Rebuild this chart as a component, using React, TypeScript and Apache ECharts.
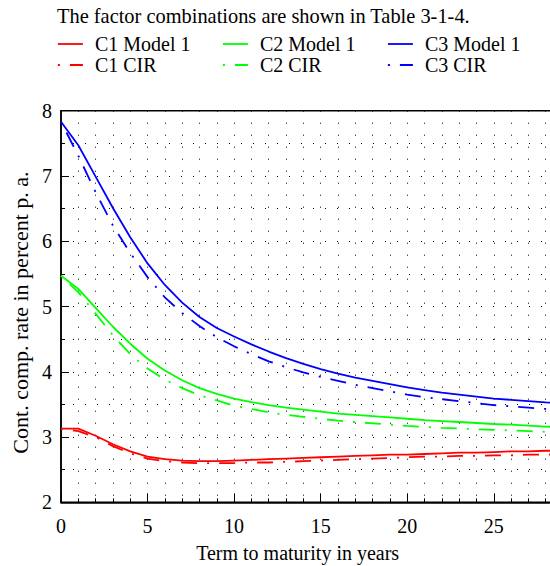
import React, { useEffect, useRef } from "react";
import * as echarts from "echarts";

const years = [0, 1, 2, 3, 4, 5, 6, 7, 8, 9, 10, 11, 12, 13, 14, 15, 16, 17, 18, 19, 20, 21, 22, 23, 24, 25, 26, 27, 28, 29];

const c1Model1 = [3.13, 3.13, 3.02, 2.89, 2.78, 2.7, 2.66, 2.64, 2.63, 2.63, 2.64, 2.65, 2.66, 2.67, 2.68, 2.69, 2.7, 2.71, 2.72, 2.73, 2.73, 2.74, 2.75, 2.76, 2.76, 2.77, 2.78, 2.78, 2.79, 2.79];
const c1Cir = [3.13, 3.09, 3.0, 2.86, 2.75, 2.67, 2.63, 2.61, 2.6, 2.6, 2.6, 2.61, 2.61, 2.62, 2.63, 2.64, 2.65, 2.66, 2.67, 2.68, 2.69, 2.7, 2.7, 2.71, 2.71, 2.72, 2.72, 2.73, 2.73, 2.74];
const c2Model1 = [5.47, 5.27, 4.98, 4.69, 4.43, 4.2, 4.02, 3.87, 3.75, 3.66, 3.59, 3.535, 3.49, 3.45, 3.42, 3.39, 3.36, 3.34, 3.32, 3.3, 3.28, 3.26, 3.245, 3.23, 3.215, 3.2, 3.19, 3.175, 3.16, 3.15];
const c2Cir = [5.47, 5.22, 4.89, 4.56, 4.27, 4.05, 3.88, 3.75, 3.64, 3.56, 3.48, 3.43, 3.38, 3.34, 3.31, 3.28, 3.25, 3.23, 3.21, 3.19, 3.17, 3.155, 3.14, 3.13, 3.12, 3.11, 3.1, 3.09, 3.08, 3.07];
const c3Model1 = [7.83, 7.47, 6.99, 6.51, 6.06, 5.66, 5.33, 5.06, 4.84, 4.67, 4.54, 4.42, 4.31, 4.21, 4.12, 4.04, 3.97, 3.91, 3.86, 3.81, 3.76, 3.72, 3.68, 3.65, 3.62, 3.59, 3.57, 3.55, 3.53, 3.52];
const c3Cir = [7.83, 7.31, 6.75, 6.24, 5.82, 5.45, 5.14, 4.9, 4.7, 4.53, 4.39, 4.27, 4.16, 4.07, 3.99, 3.92, 3.86, 3.8, 3.75, 3.7, 3.65, 3.61, 3.58, 3.55, 3.52, 3.49, 3.47, 3.45, 3.43, 3.42];

const seriesNames = ["C1 Model 1", "C2 Model 1", "C3 Model 1", "C1 CIR", "C2 CIR", "C3 CIR"];
const seriesValues = [c1Model1, c2Model1, c3Model1, c1Cir, c2Cir, c3Cir];
const seriesColors = ["#ff0000", "#00ff00", "#0000ff", "#ff0000", "#00ff00", "#0000ff"];
const seriesDashed = [false, false, false, true, true, true];

const titleText = "The factor combinations are shown in Table 3-1-4.";
const xName = "Term to maturity in years";
const yName = "Cont. comp. rate in percent p. a.";

const FONT = "Liberation Serif";
const DASH = [16, 10, 2, 10];

export default function App() {
  const ref = useRef<HTMLDivElement>(null);

  useEffect(() => {
    if (!ref.current) return;
    const chart = echarts.init(ref.current, undefined, { renderer: "svg" });

    const legendLefts = [57, 222, 387];
    const legendTops = [34, 55];

    const dotLine = { color: "#000", width: 1, type: [1, 11] as number[] };

    const option: any = {
      animation: false,
      backgroundColor: "#fff",
      textStyle: { fontFamily: FONT },
      title: {
        text: titleText,
        left: 57,
        top: 6,
        padding: 0,
        textStyle: { fontFamily: FONT, fontSize: 20.4, fontWeight: "normal", color: "#000" },
      },
      legend: seriesNames.map((name, i) => ({
        data: [name],
        left: legendLefts[i % 3],
        top: legendTops[Math.floor(i / 3)],
        padding: 0,
        itemWidth: 25,
        itemHeight: 14,
        selectedMode: false,
        itemStyle: { color: "transparent", borderWidth: 0, opacity: 0 },
        lineStyle: seriesDashed[i]
          ? { type: DASH, dashOffset: 26, width: 1.8 }
          : { width: 1.8 },
        textStyle: { fontFamily: FONT, fontSize: 20, color: "#000", padding: [0, 0, 0, 7] },
      })),
      grid: {
        left: 61,
        top: 110.7,
        width: 519.3,
        height: 391.6,
        show: true,
        borderColor: "#000",
        borderWidth: 1.5,
        outerBoundsMode: "none",
        containLabel: false,
      },
      xAxis: {
        type: "value",
        min: 0,
        max: 30,
        interval: 5,
        name: xName,
        nameLocation: "middle",
        nameGap: 41,
        nameTextStyle: { fontFamily: FONT, fontSize: 20, color: "#000", padding: [0, 46, 0, 0] },
        axisLine: { show: true, lineStyle: { color: "#000", width: 1.5 } },
        axisTick: { show: true, inside: true, length: 9, lineStyle: { color: "#000", width: 1 } },
        minorTick: { show: true, splitNumber: 5, length: 4, lineStyle: { color: "#000", width: 1 } },
        axisLabel: { fontFamily: FONT, fontSize: 20, color: "#000", margin: 14, showMaxLabel: false },
        splitLine: { show: true, lineStyle: dotLine },
        minorSplitLine: { show: true, lineStyle: dotLine },
      },
      yAxis: {
        type: "value",
        min: 2,
        max: 8,
        interval: 1,
        name: yName,
        nameLocation: "middle",
        nameGap: 30,
        nameTextStyle: { fontFamily: FONT, fontSize: 22, color: "#000", padding: [0, 12, 0, 0] },
        axisLine: { show: true, lineStyle: { color: "#000", width: 1.5 } },
        axisTick: { show: true, inside: true, length: 8, lineStyle: { color: "#000", width: 1 } },
        minorTick: { show: true, splitNumber: 2, length: 4, lineStyle: { color: "#000", width: 1 } },
        axisLabel: { fontFamily: FONT, fontSize: 20, color: "#000", margin: 9 },
        splitLine: { show: true, lineStyle: dotLine },
        minorSplitLine: { show: true, lineStyle: dotLine },
      },
      series: seriesNames.map((name, i) => ({
        name,
        type: "line",
        symbol: "none",
        clip: true,
        data: years.map((t, j) => [t, seriesValues[i][j]]),
        itemStyle: { color: seriesColors[i] },
        lineStyle: {
          color: seriesColors[i],
          width: 1.8,
          type: seriesDashed[i] ? DASH : "solid",
          dashOffset: seriesDashed[i] ? 26 : 0,
        },
        z: seriesDashed[i] ? 3 : 4,
      })),
    };

    chart.setOption(option);
    return () => chart.dispose();
  }, []);

  return (
    <div
      ref={ref}
      style={{ position: "absolute", left: 0, top: 0, width: 550, height: 566, overflow: "hidden" }}
    />
  );
}
